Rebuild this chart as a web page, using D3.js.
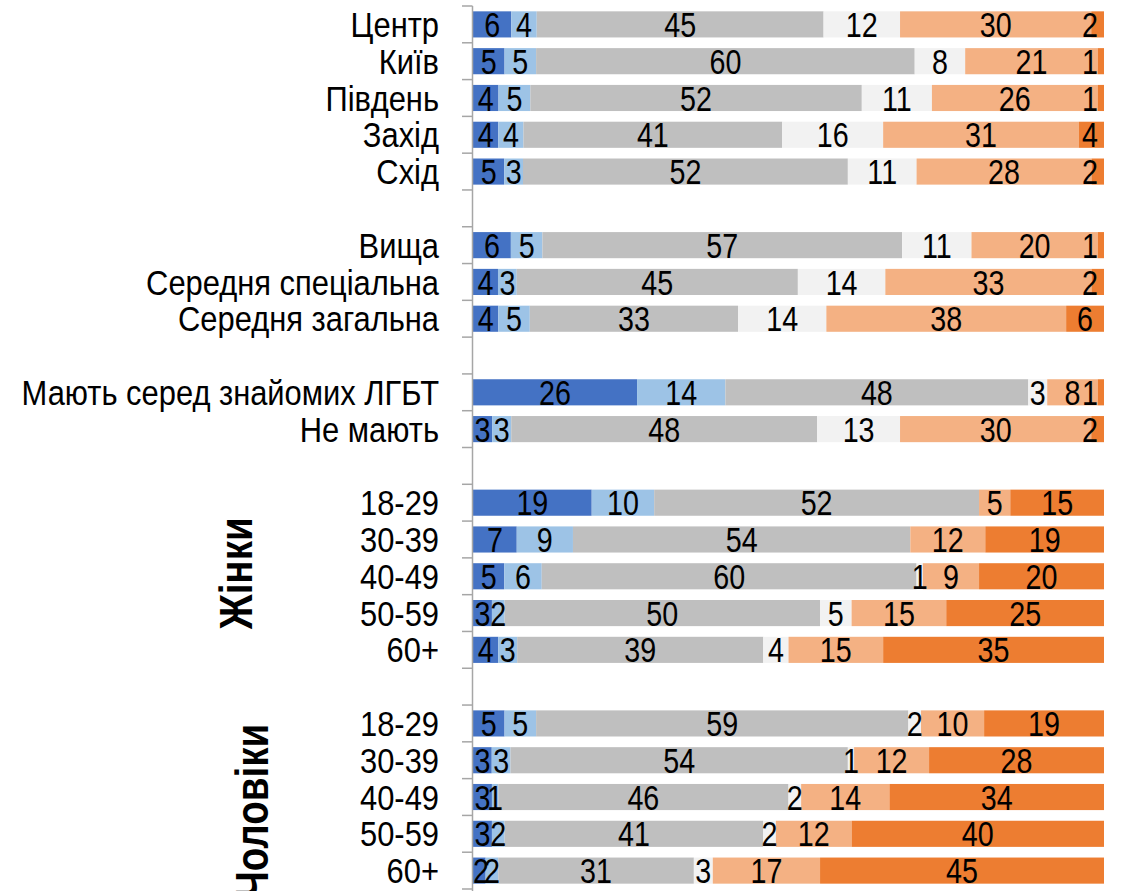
<!DOCTYPE html>
<meta charset="utf-8">

<style>
body { margin: 0; background: #fff; }
.chart text {
  font-family: "Liberation Sans", Arial, sans-serif;
  fill: #000;
}
.axis line, .axis path {
  stroke: #a6a6a6;
  stroke-width: 1.5px;
  fill: none;
}
</style>

<svg class="chart"></svg>

<script src="https://d3js.org/d3.v7.min.js"></script>
<script>

  // row labels, null = empty spacer row
  var rowLabels = [
    "Центр", "Київ", "Південь", "Захід", "Схід", null,
    "Вища", "Середня спеціальна", "Середня загальна", null,
    "Мають серед знайомих ЛГБТ", "Не мають", null,
    "18-29", "30-39", "40-49", "50-59", "60+", null,
    "18-29", "30-39", "40-49", "50-59", "60+"
  ];

  // the six answer segments, left to right
  var seg1 = [6, 5, 4, 4, 5, null, 6, 4, 4, null, 26, 3, null, 19, 7, 5, 3, 4, null, 5, 3, 3, 3, 2];
  var seg2 = [4, 5, 5, 4, 3, null, 5, 3, 5, null, 14, 3, null, 10, 9, 6, 2, 3, null, 5, 3, 1, 2, 2];
  var seg3 = [45, 60, 52, 41, 52, null, 57, 45, 33, null, 48, 48, null, 52, 54, 60, 50, 39, null, 59, 54, 46, 41, 31];
  var seg4 = [12, 8, 11, 16, 11, null, 11, 14, 14, null, 3, 13, null, 0, 0, 1, 5, 4, null, 2, 1, 2, 2, 3];
  var seg5 = [30, 21, 26, 31, 28, null, 20, 33, 38, null, 8, 30, null, 5, 12, 9, 15, 15, null, 10, 12, 14, 12, 17];
  var seg6 = [2, 1, 1, 4, 2, null, 1, 2, 6, null, 1, 2, null, 15, 19, 20, 25, 35, null, 19, 28, 34, 40, 45];

  var segColors = ["#4472c4", "#9dc3e6", "#bfbfbf", "#f2f2f2", "#f4b183", "#ed7d31"];

  // side group titles: label, first row, last row
  var groupLabels = ["Жінки", "Чоловіки"];
  var groupRows = [[13, 17], [19, 23]];

  var outerWidth = 1122;
  var outerHeight = 891;

  var plot = { left: 473, right: 1104, top: 6, bottom: 889 };

  var fontSize = 35;
  var narrow = 0.82;      // condensed look of the data labels
  var labelNarrow = 0.87; // row labels are a bit wider
  var labelPadRight = 6;

  var rowIds = rowLabels.map(function(d, i) { return i; });
  var segs = [seg1, seg2, seg3, seg4, seg5, seg6];

  var rows = rowIds.filter(function(i) { return rowLabels[i] !== null; }).map(function(i) {
    var vals = segs.map(function(s) { return s[i]; });
    var total = d3.sum(vals);
    var acc = 0;
    return {
      id: i,
      label: rowLabels[i],
      parts: vals.map(function(v, k) {
        var p = { id: i, k: k, v: v, x0: acc / total, x1: (acc + v) / total };
        acc += v;
        return p;
      })
    };
  });

  var xScale = d3.scaleLinear()
      .domain([0, 1])
      .range([plot.left, plot.right]);

  var yScale = d3.scaleBand()
      .domain(rowIds)
      .range([plot.top, plot.bottom])
      .paddingInner(0.29)
      .paddingOuter(0.145);

  var tickScale = d3.scaleLinear()
      .domain([0, rowIds.length])
      .range([plot.top, plot.bottom]);

  var svg = d3.select(".chart")
      .attr("width", outerWidth)
      .attr("height", outerHeight);

  var bars = svg.append("g")
      .attr("class", "bars")
    .selectAll("g")
      .data(rows)
    .enter().append("g");

  bars.selectAll("rect")
      .data(function(d) { return d.parts.filter(function(p) { return p.v > 0; }); })
    .enter().append("rect")
      .attr("x", function(p) { return xScale(p.x0); })
      .attr("width", function(p) { return xScale(p.x1) - xScale(p.x0); })
      .attr("y", function(p) { return yScale(p.id); })
      .attr("height", yScale.bandwidth())
      .attr("fill", function(p) { return segColors[p.k]; });

  bars.selectAll("text")
      .data(function(d) { return d.parts.filter(function(p) { return p.v > 0; }); })
    .enter().append("text")
      .attr("text-anchor", "middle")
      .style("font-size", fontSize + "px")
      .text(function(p) { return p.v; })
      .attr("transform", function(p) {
        // keep labels inside the plot area, like the original
        var half = this.getComputedTextLength() * narrow / 2;
        var cx = (xScale(p.x0) + xScale(p.x1)) / 2;
        cx = Math.min(Math.max(cx, plot.left + half), plot.right - labelPadRight - half);
        var cy = yScale(p.id) + yScale.bandwidth() / 2 + fontSize * 0.36;
        return "translate(" + cx + "," + cy + ") scale(" + narrow + ",1)";
      });

  // category axis with ticks between categories
  var axis = svg.append("g")
      .attr("class", "axis");

  axis.append("line")
      .attr("x1", plot.left - 0.5)
      .attr("x2", plot.left - 0.5)
      .attr("y1", plot.top)
      .attr("y2", outerHeight);

  axis.selectAll(".tick")
      .data(d3.range(rowIds.length + 1))
    .enter().append("line")
      .attr("class", "tick")
      .attr("x1", plot.left - 11)
      .attr("x2", plot.left - 0.5)
      .attr("y1", function(d) { return tickScale(d); })
      .attr("y2", function(d) { return tickScale(d); });

  svg.append("g")
      .attr("class", "row-labels")
    .selectAll("text")
      .data(rows)
    .enter().append("text")
      .attr("text-anchor", "end")
      .style("font-size", (fontSize + 0.5) + "px")
      .attr("transform", function(d) {
        var cy = yScale(d.id) + yScale.bandwidth() / 2 + fontSize * 0.36;
        return "translate(" + (plot.left - 34) + "," + cy + ") scale(" + labelNarrow + ",1)";
      })
      .text(function(d) { return d.label; });

  var groupX = [252, 268];
  var groupShift = [-3, 14];

  svg.append("g")
      .attr("class", "group-labels")
    .selectAll("text")
      .data(groupLabels)
    .enter().append("text")
      .attr("text-anchor", "middle")
      .style("font-size", "47px")
      .style("font-weight", "bold")
      .attr("transform", function(d, i) {
        var r = groupRows[i];
        var cy = (yScale(r[0]) + yScale(r[1]) + yScale.bandwidth()) / 2 + groupShift[i];
        return "translate(" + groupX[i] + "," + cy + ") rotate(-90) scale(" + narrow + ",1)";
      })
      .text(function(d) { return d; });

</script>
